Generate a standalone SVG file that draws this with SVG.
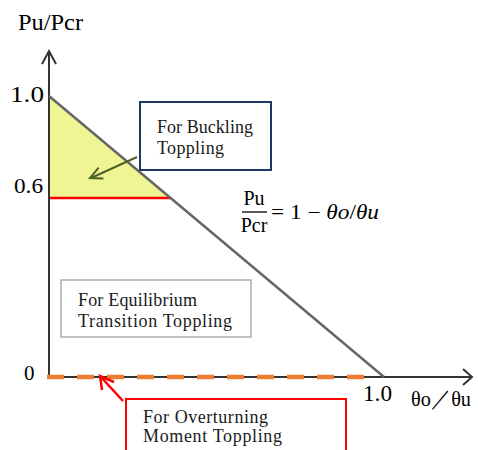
<svg xmlns="http://www.w3.org/2000/svg" width="478" height="450" viewBox="0 0 478 450">
<style>
.lbl{font-family:"Liberation Serif","Times New Roman",serif;fill:#000}
.box{font-family:"Liberation Serif","Times New Roman",serif;font-size:18px;fill:#1a1a1a}
.axis{stroke:#333;stroke-width:2;fill:none}
</style>
<rect width="478" height="450" fill="#fff"/>
<g id="region-buckling">
<polygon points="49,96 49,198 171,198" fill="#eef592"/>
<line x1="49" y1="198" x2="171" y2="198" stroke="#ff0000" stroke-width="2.5"/>
</g>
<g id="connectors">
<line x1="49" y1="377" x2="49" y2="52" class="axis"/>
<polyline points="42,64 49,51 56,64" class="axis"/>
<line x1="49" y1="377" x2="471" y2="377" class="axis"/>
<polyline points="463,369 472,377 463,385" class="axis"/>
<line x1="49" y1="96" x2="384" y2="377" stroke="#666" stroke-width="2.5"/>
<line x1="47" y1="377" x2="368" y2="377" stroke="#ed7d31" stroke-width="4.5" stroke-dasharray="17,13"/>
<line x1="137" y1="157" x2="91" y2="178" stroke="#4f6228" stroke-width="2"/>
<polyline points="98.6,167.6 90,178 103.4,178.6" fill="none" stroke="#4f6228" stroke-width="2"/>
<line x1="123" y1="401" x2="100" y2="376" stroke="#ff0000" stroke-width="2.5"/>
<polyline points="102,390 100,376 114,382" fill="none" stroke="#ff0000" stroke-width="2.5"/>
</g>
<g id="axis-labels">
<text class="lbl" x="18" y="30" font-size="24" textLength="65" lengthAdjust="spacingAndGlyphs">Pu/Pcr</text>
<text class="lbl" x="10" y="102" font-size="24" textLength="34" lengthAdjust="spacingAndGlyphs">1.0</text>
<text class="lbl" x="14" y="193" font-size="22" textLength="29" lengthAdjust="spacingAndGlyphs">0.6</text>
<text class="lbl" x="24" y="380" font-size="21">0</text>
<text class="lbl" x="363" y="401" font-size="24" textLength="29" lengthAdjust="spacingAndGlyphs">1.0</text>
<text class="lbl" x="411" y="406" font-size="22" textLength="60" lengthAdjust="spacingAndGlyphs">θo／θu</text>
</g>
<g id="formula">
<text class="lbl" x="254" y="205" font-size="20" text-anchor="middle">Pu</text>
<line x1="242" y1="212" x2="267" y2="212" stroke="#000" stroke-width="1.3"/>
<text class="lbl" x="254" y="232" font-size="20" text-anchor="middle">Pcr</text>
<text class="lbl" x="271" y="219" font-size="20" textLength="108" lengthAdjust="spacingAndGlyphs">= 1 − <tspan font-style="italic">θo</tspan>/<tspan font-style="italic">θu</tspan></text>
</g>
<g id="box-buckling">
<rect x="140" y="102" width="131" height="68" fill="#fff" stroke="#1f3864" stroke-width="2"/>
<text class="box" x="157" y="133" textLength="96" lengthAdjust="spacing">For Buckling</text>
<text class="box" x="157" y="154" textLength="67" lengthAdjust="spacing">Toppling</text>
</g>
<g id="box-equilibrium">
<rect x="61" y="280" width="190" height="57" fill="#fff" stroke="#999" stroke-width="1.2"/>
<text class="box" x="78" y="306" textLength="119" lengthAdjust="spacing">For Equilibrium</text>
<text class="box" x="78" y="327" textLength="154" lengthAdjust="spacing">Transition Toppling</text>
</g>
<g id="box-overturning">
<rect x="126" y="399" width="220" height="60" fill="#fff" stroke="#ff0000" stroke-width="2"/>
<text class="box" x="143" y="423" textLength="125" lengthAdjust="spacing">For Overturning</text>
<text class="box" x="143" y="442" textLength="139" lengthAdjust="spacing">Moment Toppling</text>
</g>
</svg>
